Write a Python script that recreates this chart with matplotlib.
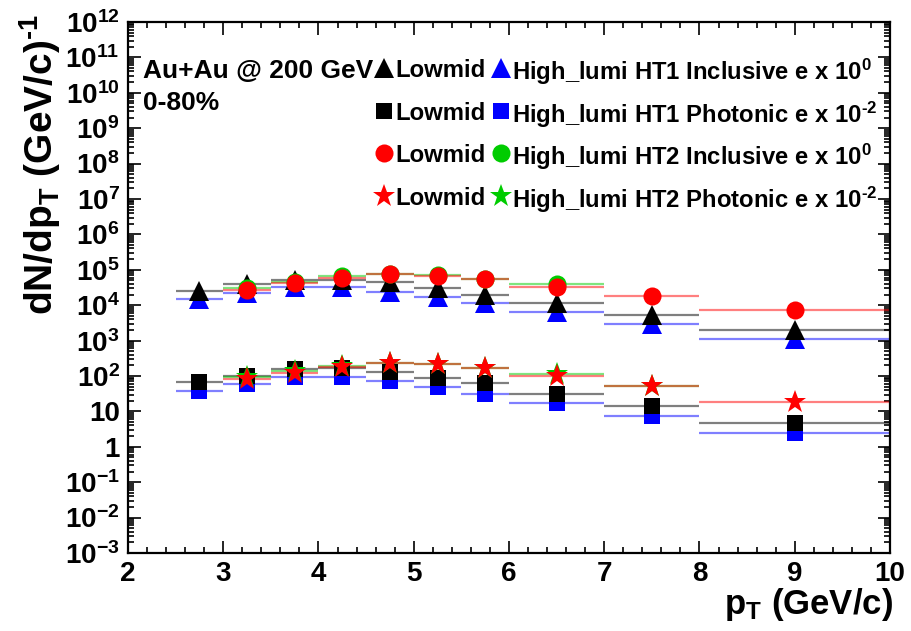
import numpy as np
import matplotlib
matplotlib.use("Agg")
import matplotlib.pyplot as plt
from matplotlib.ticker import FixedLocator, FixedFormatter, LogLocator, NullFormatter, MultipleLocator
from matplotlib.lines import Line2D

plt.rcParams['font.family'] = ['Liberation Sans', 'DejaVu Sans']
plt.rcParams['font.weight'] = 'bold'
plt.rcParams['axes.labelweight'] = 'bold'
plt.rcParams['mathtext.fontset'] = 'custom'
plt.rcParams['mathtext.rm'] = 'Liberation Sans:bold'
plt.rcParams['mathtext.it'] = 'Liberation Sans:bold'
plt.rcParams['mathtext.bf'] = 'Liberation Sans:bold'
plt.rcParams['mathtext.default'] = 'rm'

# bins en pT
pt = [2.75, 3.25, 3.75, 4.25, 4.75, 5.25, 5.75, 6.5, 7.5, 9.0]
pt_err = [0.25, 0.25, 0.25, 0.25, 0.25, 0.25, 0.25, 0.5, 0.5, 1.0]

# inclusivos (x 10^0)
incl_lowmid_ht1 = [2.6e4, 3.9e4, 5.2e4, 5.3e4, 4.6e4, 3.1e4, 2.0e4, 1.18e4, 5.4e3, 2.0e3]
incl_highlumi_ht1 = [1.47e4, 2.2e4, 3.2e4, 3.2e4, 2.4e4, 1.74e4, 1.13e4, 6.4e3, 3.0e3, 1.1e3]
incl_lowmid_ht2 = [2.7e4, 4.15e4, 6.0e4, 7.4e4, 6.8e4, 5.4e4, 3.3e4, 1.85e4, 7.3e3]      # desde 3.25
incl_highlumi_ht2 = [3.0e4, 4.5e4, 6.5e4, 7.4e4, 7.0e4, 5.5e4, 3.9e4]                  # 3.25 - 6.5

# fotonicos (se dibujan x 10^-2)
phot_lowmid_ht1 = [6.6e3, 1.0e4, 1.58e4, 1.71e4, 1.32e4, 9.0e3, 6.2e3, 3.1e3, 1.39e3, 4.6e2]
phot_highlumi_ht1 = [3.85e3, 5.9e3, 9.5e3, 9.5e3, 7.2e3, 5.0e3, 3.1e3, 1.7e3, 7.4e2, 2.5e2]
phot_lowmid_ht2 = [8.1e3, 1.19e4, 1.83e4, 2.29e4, 2.14e4, 1.65e4, 1.02e4, 5.1e3, 1.8e3]  # desde 3.25
phot_highlumi_ht2 = [9.2e3, 1.38e4, 1.9e4, 2.29e4, 2.2e4, 1.7e4, 1.12e4, 5.3e3]         # 3.25 - 7.5
escala_phot = 1e-2

ytick_vals = [10.0**e for e in range(-3, 13)]
ytick_labels = [r'$10^{-3}$', r'$10^{-2}$', r'$10^{-1}$', '1', '10', r'$10^{2}$', r'$10^{3}$',
                r'$10^{4}$', r'$10^{5}$', r'$10^{6}$', r'$10^{7}$', r'$10^{8}$', r'$10^{9}$',
                r'$10^{10}$', r'$10^{11}$', r'$10^{12}$']

# filas de la leyenda: (marcador, color Lowmid, color High_lumi, tamaño, texto)
leyenda = [
    ('^', 'black', 'blue', 14, 'High_lumi HT1 Inclusive e x $10^{0}$'),
    ('s', 'black', 'blue', 11.5, 'High_lumi HT1 Photonic e x $10^{\u20102}$'),
    ('o', 'red', '#00cc00', 13, 'High_lumi HT2 Inclusive e x $10^{0}$'),
    ('*', 'red', '#00cc00', 17, 'High_lumi HT2 Photonic e x $10^{\u20102}$'),
]

fig = plt.figure(figsize=(9.12, 6.31), dpi=100)
ax = fig.add_axes([128/912, 78/631, 762/912, 531/631])


def dibujar(x, xerr, y, color, marker, ms, escala=1.0):
    y = np.array(y) * escala
    ax.errorbar(x, y, xerr=xerr, fmt='none', ecolor=color, elinewidth=1.6, alpha=0.5, zorder=2)
    ax.plot(x, y, linestyle='none', marker=marker, color=color, markersize=ms,
            markeredgewidth=0, zorder=3)


# orden de dibujo: High_lumi HT1, Lowmid HT1, High_lumi HT2, Lowmid HT2
dibujar(pt, pt_err, incl_highlumi_ht1, 'blue', '^', 14)
dibujar(pt, pt_err, phot_highlumi_ht1, 'blue', 's', 11.5, escala_phot)
dibujar(pt, pt_err, incl_lowmid_ht1, 'black', '^', 14)
dibujar(pt, pt_err, phot_lowmid_ht1, 'black', 's', 11.5, escala_phot)
dibujar(pt[1:8], pt_err[1:8], incl_highlumi_ht2, '#00cc00', 'o', 13)
dibujar(pt[1:9], pt_err[1:9], phot_highlumi_ht2, '#00cc00', '*', 17, escala_phot)
dibujar(pt[1:], pt_err[1:], incl_lowmid_ht2, 'red', 'o', 13)
dibujar(pt[1:], pt_err[1:], phot_lowmid_ht2, 'red', '*', 17, escala_phot)

ax.set_xlim(2, 10)
ax.set_yscale('log')
ax.set_ylim(1e-3, 1e12)

ax.yaxis.set_major_locator(FixedLocator(ytick_vals))
ax.yaxis.set_major_formatter(FixedFormatter(ytick_labels))
ax.yaxis.set_minor_locator(LogLocator(base=10, subs=np.arange(2, 10), numticks=100))
ax.yaxis.set_minor_formatter(NullFormatter())
ax.xaxis.set_major_locator(MultipleLocator(1))
ax.xaxis.set_minor_locator(MultipleLocator(0.2))

ax.tick_params(which='both', direction='in', top=True, right=True, width=1.2, labelsize=20)
ax.tick_params(which='major', length=9)
ax.tick_params(which='minor', length=4.5)
ax.tick_params(axis='x', pad=6)
ax.tick_params(axis='y', pad=6)
for s in ax.spines.values():
    s.set_linewidth(1.6)

ax.set_ylabel('dN/dp$_{T}$ (GeV/c)$^{\u2010 1}$', fontsize=28, loc='top')
ax.yaxis.set_label_coords(-0.085, 1.015)
ax.set_xlabel(r'p$_{T}$ (GeV/c)', fontsize=25, loc='right')
ax.xaxis.set_label_coords(1.004, -0.062)

# leyenda estilo ROOT, dibujada a mano por filas
fs = 17.2
filas_y = [68, 111, 153, 196]
for (mk, c1, c2, ms, texto), yp in zip(leyenda, filas_y):
    yf = 1 - yp / 631
    fig.add_artist(Line2D([384/912], [yf], ls='none', marker=mk, color=c1, ms=ms, mew=0))
    fig.text(395/912, yf, 'Lowmid', fontsize=fs, va='center_baseline', ha='left')
    fig.add_artist(Line2D([501/912], [yf], ls='none', marker=mk, color=c2, ms=ms, mew=0))
    fig.text(512/912, yf, texto, fontsize=fs, va='center_baseline', ha='left')

fig.text(143/912, 1 - 68/631, 'Au+Au @ 200 GeV', fontsize=19, va='center_baseline', ha='left')
fig.text(143/912, 1 - 101/631, '0-80%', fontsize=19, va='center_baseline', ha='left')

fig.savefig('out.png', dpi=100)
